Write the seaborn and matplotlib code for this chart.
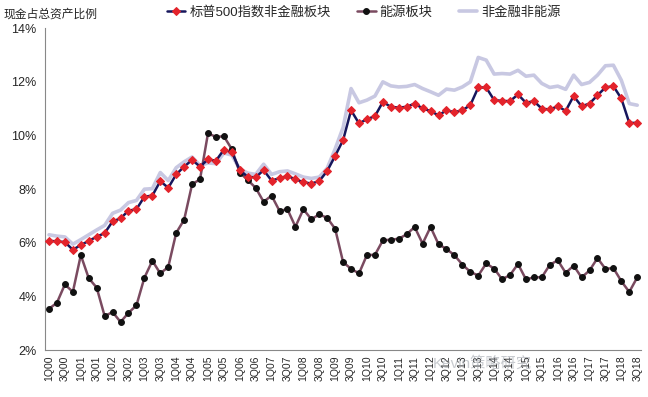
import matplotlib
matplotlib.use("Agg")
import matplotlib.pyplot as plt
import numpy as np
import pandas as pd
import seaborn as sns

# quarterly data, 1Q00 - 3Q18 (% of total assets)
quarters = [f"{q}Q{y % 100:02d}" for y in range(2000, 2019) for q in range(1, 5)][:75]

sp500_nonfin = [6.08, 6.05, 6.03, 5.74, 5.92, 6.07, 6.23, 6.36, 6.80, 6.91,
                7.20, 7.25, 7.72, 7.76, 8.30, 8.05, 8.55, 8.84, 9.09, 8.84,
                9.11, 9.06, 9.47, 9.38, 8.71, 8.46, 8.44, 8.71, 8.32, 8.41,
                8.49, 8.37, 8.26, 8.21, 8.30, 8.68, 9.24, 9.83, 10.94, 10.45,
                10.61, 10.72, 11.25, 11.07, 11.04, 11.07, 11.19, 11.01, 10.91, 10.75,
                10.94, 10.87, 10.94, 11.13, 11.79, 11.79, 11.32, 11.29, 11.28, 11.53,
                11.22, 11.28, 11.00, 10.97, 11.09, 10.92, 11.47, 11.09, 11.19, 11.50,
                11.79, 11.84, 11.38, 10.47, 10.47]

energy = [3.54, 3.77, 4.45, 4.17, 5.54, 4.68, 4.33, 3.27, 3.42, 3.05,
          3.39, 3.67, 4.70, 5.33, 4.86, 5.10, 6.37, 6.86, 8.18, 8.37,
          10.08, 9.95, 9.97, 9.49, 8.62, 8.34, 8.05, 7.53, 7.76, 7.19,
          7.25, 6.60, 7.25, 6.88, 7.06, 6.93, 6.52, 5.28, 5.03, 4.86,
          5.55, 5.55, 6.09, 6.12, 6.15, 6.32, 6.59, 5.97, 6.59, 5.95,
          5.77, 5.54, 5.19, 4.92, 4.78, 5.23, 5.04, 4.64, 4.80, 5.21,
          4.64, 4.71, 4.72, 5.18, 5.35, 4.88, 5.15, 4.71, 4.97, 5.43,
          5.03, 5.06, 4.57, 4.17, 4.71]

nonfin_nonenergy = [6.30, 6.25, 6.22, 5.95, 6.12, 6.30, 6.48, 6.65, 7.10, 7.22,
                    7.50, 7.58, 8.00, 8.02, 8.62, 8.32, 8.80, 9.02, 9.20, 8.88,
                    8.98, 8.95, 9.35, 9.27, 8.75, 8.60, 8.55, 8.93, 8.55, 8.65,
                    8.68, 8.57, 8.45, 8.40, 8.45, 8.78, 9.50, 10.30, 11.75, 11.22,
                    11.32, 11.47, 12.00, 11.85, 11.81, 11.83, 11.90, 11.75, 11.63, 11.50,
                    11.73, 11.69, 11.81, 12.00, 12.91, 12.81, 12.29, 12.31, 12.29, 12.43,
                    12.21, 12.25, 11.94, 11.79, 11.84, 11.72, 12.25, 11.90, 11.98, 12.25,
                    12.60, 12.62, 12.06, 11.19, 11.13]

labels = ["标普500指数非金融板块", "能源板块", "非金融非能源"]

df = pd.DataFrame({"pos": np.arange(len(quarters)),
                   labels[0]: sp500_nonfin,
                   labels[1]: energy,
                   labels[2]: nonfin_nonenergy})

sns.set_style("white")
plt.rcParams["font.family"] = ["Liberation Sans", "Noto Sans CJK SC", "DejaVu Sans"]

fig = plt.figure(figsize=(6.48, 3.97), dpi=100)
ax = fig.add_axes([0.0695, 0.118, 0.92, 0.811])

# light line at the back
sns.lineplot(data=df, x="pos", y=labels[2], ax=ax, color="#c8c8e2", linewidth=2.6,
             label=labels[2], zorder=1)
sns.lineplot(data=df, x="pos", y=labels[0], ax=ax, color="#16165c", linewidth=1.8,
             marker="D", markersize=4.2, markerfacecolor="#e3232b", markeredgecolor="#e3232b",
             label=labels[0], zorder=3)
sns.lineplot(data=df, x="pos", y=labels[1], ax=ax, color="#7a4a60", linewidth=1.8,
             marker="o", markersize=4.2, markerfacecolor="#111111", markeredgecolor="#111111",
             label=labels[1], zorder=2)

ax.set_xlim(-0.5, len(quarters) - 0.5)
ax.set_ylim(2, 14)
ax.set_yticks(np.arange(2, 15, 2))
ax.set_yticklabels([f"{v}%" for v in range(2, 15, 2)], fontsize=9)
ax.set_xticks(np.arange(0, len(quarters), 2))
ax.set_xticklabels(quarters[::2], rotation=90, fontsize=7.5)
ax.set_xticks(np.arange(-0.5, len(quarters), 1), minor=True)
ax.tick_params(axis="x", which="major", length=0, pad=4)
ax.tick_params(axis="x", which="minor", direction="out", length=3, color="#888888")
ax.tick_params(axis="y", direction="out", length=4, color="#888888", pad=2)
ax.set_xlabel("")
ax.set_ylabel("")

sns.despine(ax=ax)
for side in ["left", "bottom"]:
    ax.spines[side].set_color("#888888")
    ax.spines[side].set_linewidth(0.8)

# legend on top
handles, labs = ax.get_legend_handles_labels()
order = [1, 2, 0]
ax.legend([handles[i] for i in order], [labs[i] for i in order], ncol=3, frameon=False,
          loc="center", bbox_to_anchor=(0.535, 1.05), fontsize=9.5, handlelength=1.4,
          columnspacing=2.0, handletextpad=0.3)

fig.text(0.006, 0.962, "现金占总资产比例", fontsize=8.5, ha="left", va="center")

# watermark
fig.text(0.745, 0.085, "Kevin策略研究", fontsize=11, color="#9aa0a8", alpha=0.55,
         ha="center", va="center")

fig.savefig("out.png", dpi=100)
